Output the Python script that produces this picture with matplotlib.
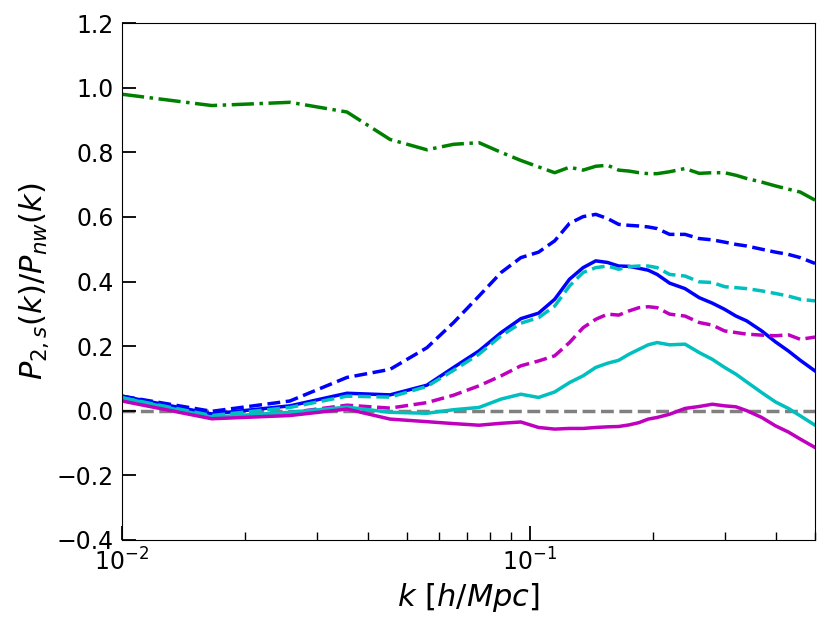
"""Ratio of the quadrupole-like P_2,s(k) to the no-wiggle spectrum, several samples."""

import matplotlib

matplotlib.use("Agg")

import matplotlib.pyplot as plt  # noqa: E402

# k bins [h/Mpc], shared by every curve
k = [0.01, 0.0166, 0.0258, 0.0356, 0.0454, 0.0559, 0.065, 0.075, 0.085, 0.095,
     0.105, 0.115, 0.125, 0.135, 0.145, 0.155, 0.165, 0.175, 0.185, 0.195,
     0.205, 0.22, 0.24, 0.26, 0.28, 0.30, 0.32, 0.34, 0.37, 0.40, 0.43, 0.46, 0.5]

green_dashdot = [0.98, 0.945, 0.955, 0.925, 0.84, 0.808, 0.825, 0.83, 0.80, 0.775,
                 0.755, 0.737, 0.754, 0.745, 0.757, 0.76, 0.745, 0.742, 0.737, 0.734,
                 0.734, 0.74, 0.75, 0.735, 0.737, 0.737, 0.729, 0.719, 0.708, 0.696,
                 0.686, 0.677, 0.652]

blue_dashed = [0.045, -0.002, 0.03, 0.103, 0.128, 0.195, 0.273, 0.355, 0.428, 0.474,
               0.491, 0.526, 0.58, 0.601, 0.608, 0.595, 0.577, 0.574, 0.572, 0.569,
               0.564, 0.546, 0.546, 0.533, 0.529, 0.522, 0.515, 0.51, 0.5, 0.491,
               0.484, 0.474, 0.456]

blue_solid = [0.045, -0.01, 0.015, 0.054, 0.049, 0.079, 0.134, 0.185, 0.242, 0.285,
              0.302, 0.345, 0.407, 0.443, 0.464, 0.459, 0.448, 0.447, 0.441, 0.435,
              0.422, 0.395, 0.378, 0.35, 0.333, 0.314, 0.293, 0.278, 0.247, 0.213,
              0.185, 0.156, 0.123]

cyan_dashed = [0.04, -0.015, 0.01, 0.045, 0.042, 0.075, 0.125, 0.175, 0.232, 0.271,
               0.288, 0.324, 0.386, 0.428, 0.443, 0.448, 0.438, 0.446, 0.448, 0.448,
               0.443, 0.422, 0.417, 0.399, 0.397, 0.384, 0.381, 0.378, 0.371, 0.363,
               0.355, 0.345, 0.34]

magenta_dashed = [0.035, -0.022, -0.006, 0.017, 0.008, 0.025, 0.048, 0.077, 0.108, 0.139,
                  0.154, 0.17, 0.211, 0.257, 0.283, 0.299, 0.296, 0.309, 0.319, 0.322,
                  0.319, 0.299, 0.293, 0.273, 0.265, 0.247, 0.242, 0.237, 0.234, 0.232,
                  0.235, 0.221, 0.228]

cyan_solid = [0.04, -0.02, -0.005, 0.011, -0.005, -0.008, 0.003, 0.01, 0.036, 0.051,
              0.041, 0.058, 0.087, 0.108, 0.134, 0.147, 0.156, 0.175, 0.19, 0.204,
              0.211, 0.204, 0.206, 0.18, 0.159, 0.134, 0.113, 0.089, 0.056, 0.027,
              0.007, -0.016, -0.045]

magenta_solid = [0.03, -0.025, -0.015, 0.005, -0.026, -0.034, -0.04, -0.045, -0.039, -0.035,
                 -0.052, -0.057, -0.055, -0.055, -0.052, -0.05, -0.049, -0.044, -0.037, -0.026,
                 -0.021, -0.011, 0.007, 0.013, 0.02, 0.015, 0.012, 0.0, -0.021, -0.047,
                 -0.066, -0.088, -0.114]

curves = [
    (green_dashdot, "g", "-."),
    (blue_dashed, "b", "--"),
    (blue_solid, "b", "-"),
    (cyan_dashed, "c", "--"),
    (magenta_dashed, "m", "--"),
    (cyan_solid, "c", "-"),
    (magenta_solid, "m", "-"),
]

fig = plt.figure(figsize=(8.3, 6.27), dpi=100)
ax = fig.add_axes([0.147, 0.139, 0.835, 0.824])

ax.axhline(0.0, color="gray", ls="--", lw=2.5, zorder=1)
for vals, color, ls in curves:
    ax.plot(k, vals, color=color, ls=ls, lw=2.5)

ax.set_xscale("log")
ax.set_xlim(0.01, 0.5)
ax.set_ylim(-0.4, 1.2)
ax.set_yticks([-0.4, -0.2, 0.0, 0.2, 0.4, 0.6, 0.8, 1.0, 1.2])

ax.tick_params(which="major", direction="in", length=10, width=1.3, labelsize=17, pad=6)
ax.tick_params(which="minor", direction="in", length=5.5, width=1.0)
ax.tick_params(axis="y", which="minor", left=False)

ax.set_xlabel(r"$k\ [h/Mpc]$", fontsize=22)
ax.set_ylabel(r"$P_{2,s}(k)/P_{nw}(k)$", fontsize=22)

fig.savefig("out.png", dpi=100)
